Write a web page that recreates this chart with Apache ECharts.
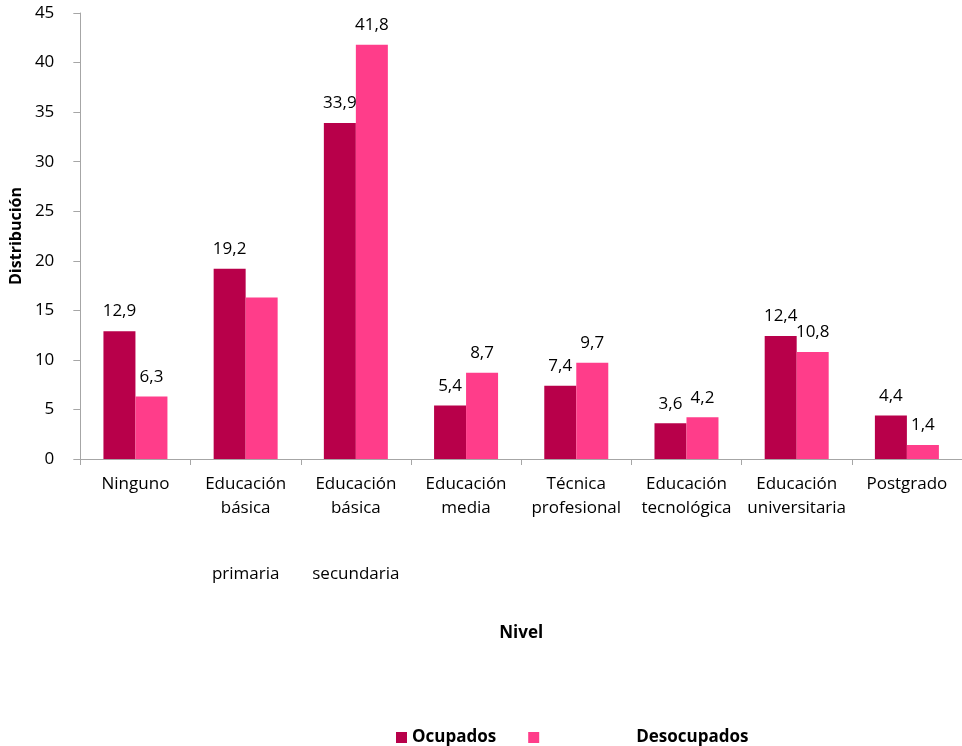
<!DOCTYPE html>
<html>
<head>
<meta charset="utf-8">
<script src="https://cdn.jsdelivr.net/npm/echarts@6/dist/echarts.min.js"></script>
<style>html,body{margin:0;padding:0;background:#fff}#c{width:962px;height:746px}</style>
</head>
<body>
<div id="c"></div>
<script>
const categories = ['Ninguno', 'Educación\nbásica\n{g| }\nprimaria', 'Educación\nbásica\n{g| }\nsecundaria', 'Educación\nmedia', 'Técnica\nprofesional', 'Educación\ntecnológica', 'Educación\nuniversitaria', 'Postgrado'];
const ocupados = [12.9, 19.2, 33.9, 5.4, 7.4, 3.6, 12.4, 4.4];
const desocupados = [6.3, 16.3, 41.8, 8.7, 9.7, 4.2, 10.8, 1.4];
const hiddenLabels = { Desocupados: [1] };
const yTicks = { min: 0, max: 45, interval: 5 };

const FONT = '"Open Sans", "Noto Sans", sans-serif';
function mk(arr, name) {
  return arr.map((v, i) => (hiddenLabels[name] && hiddenLabels[name].includes(i)) ? { value: v, label: { show: false } } : v);
}
const labelCfg = {
  show: true, position: 'top', distance: 11, color: '#000', fontSize: 17, fontFamily: FONT,
  formatter: p => String(p.value).replace('.', ',')
};
const chart = echarts.init(document.getElementById('c'));
chart.setOption({
  animation: false,
  textStyle: { fontFamily: FONT },
  grid: { left: 80, right: -7, top: 13, bottom: 287, containLabel: false },
  legend: {
    left: 391, top: 724, itemWidth: 11, itemHeight: 11, itemGap: 32, icon: 'rect',
    textStyle: { fontSize: 17, fontWeight: 'bold', color: '#000', fontFamily: FONT,
      rich: { s: { width: 92 }, t: { fontSize: 17, fontWeight: 'bold', color: '#000', fontFamily: FONT } } },
    formatter: n => n === 'Desocupados' ? '{s|}{t|Desocupados}' : n,
    data: ['Ocupados', 'Desocupados']
  },
  xAxis: {
    type: 'category', data: categories,
    name: 'Nivel', nameLocation: 'middle', nameGap: 166,
    nameTextStyle: { fontSize: 17, fontWeight: 'bold', color: '#000', fontFamily: FONT },
    axisLine: { lineStyle: { color: '#a6a6a6', width: 1 } },
    axisTick: { show: true, length: 6, lineStyle: { color: '#a6a6a6' } },
    axisLabel: { interval: 0, margin: 13, fontSize: 17, color: '#000', lineHeight: 24, fontFamily: FONT,
      rich: { g: { lineHeight: 42, fontSize: 17 } } }
  },
  yAxis: {
    type: 'value', min: yTicks.min, max: yTicks.max, interval: yTicks.interval,
    name: 'Distribución', nameLocation: 'middle', nameGap: 54,
    nameTextStyle: { fontSize: 16, fontWeight: 'bold', color: '#000', fontFamily: FONT },
    axisLine: { show: true, lineStyle: { color: '#a6a6a6', width: 1 } },
    axisTick: { show: true, length: 7, lineStyle: { color: '#a6a6a6' } },
    axisLabel: { margin: 26, fontSize: 17, color: '#000', fontFamily: FONT },
    splitLine: { show: false }
  },
  series: [
    { name: 'Ocupados', type: 'bar', data: mk(ocupados, 'Ocupados'), barWidth: 32, barGap: '0%',
      itemStyle: { color: '#B8004A' }, label: labelCfg },
    { name: 'Desocupados', type: 'bar', data: mk(desocupados, 'Desocupados'), barWidth: 32, barGap: '0%',
      itemStyle: { color: '#FF3D8A' }, label: labelCfg }
  ]
});
</script>
</body>
</html>
